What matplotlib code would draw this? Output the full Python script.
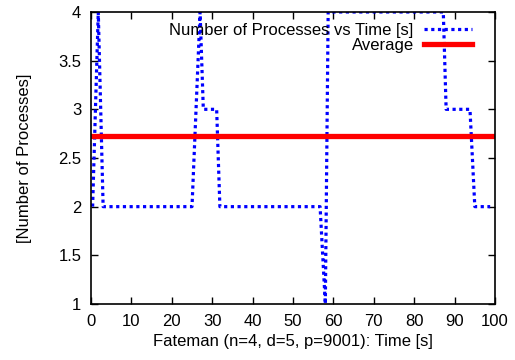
import matplotlib
matplotlib.use('Agg')
import matplotlib.pyplot as plt

# Number of processes over time
time_s = [0.4, 1.8, 3.0, 25.0, 27.0, 27.8, 31.1, 31.9, 56.7, 58.0, 58.7,
          87.2, 87.9, 93.8, 95.0, 98.8]
processes = [2, 4, 2, 2, 4, 3, 3, 2, 2, 1, 4, 4, 3, 3, 2, 2]
average = 2.73

x_ticks = list(range(0, 101, 10))
y_ticks = [1, 1.5, 2, 2.5, 3, 3.5, 4]
y_tick_labels = ['1', '1.5', '2', '2.5', '3', '3.5', '4']

plt.rcParams['font.family'] = ['Liberation Sans', 'DejaVu Sans']
plt.rcParams['font.size'] = 12

fig = plt.figure(figsize=(5.15, 3.6), dpi=100)
ax = fig.add_axes([0.1767, 0.1556, 0.7845, 0.8111])

ax.plot(time_s, processes, color='#0000ff', linestyle=(0, (1, 1.1)),
        linewidth=2.3, label='Number of Processes vs Time [s]')
ax.axhline(average, color='#ff0000', linewidth=3.8, label='Average')

ax.set_xlim(0, 100)
ax.set_ylim(1, 4)
ax.set_xticks(x_ticks)
ax.set_yticks(y_ticks)
ax.set_yticklabels(y_tick_labels)
ax.tick_params(direction='in', top=True, right=True, length=5, width=1,
               pad=7)
for s in ax.spines.values():
    s.set_linewidth(1.2)

ax.set_xlabel('Fateman (n=4, d=5, p=9001): Time [s]', labelpad=4)
ax.set_ylabel('[Number of Processes]', labelpad=19)

ax.legend(loc='upper right', frameon=False, markerfirst=False,
          handlelength=2.9, handletextpad=0.6, borderaxespad=0,
          borderpad=0, labelspacing=0.0, bbox_to_anchor=(0.943, 0.962))

fig.savefig('out.png', dpi=100)
